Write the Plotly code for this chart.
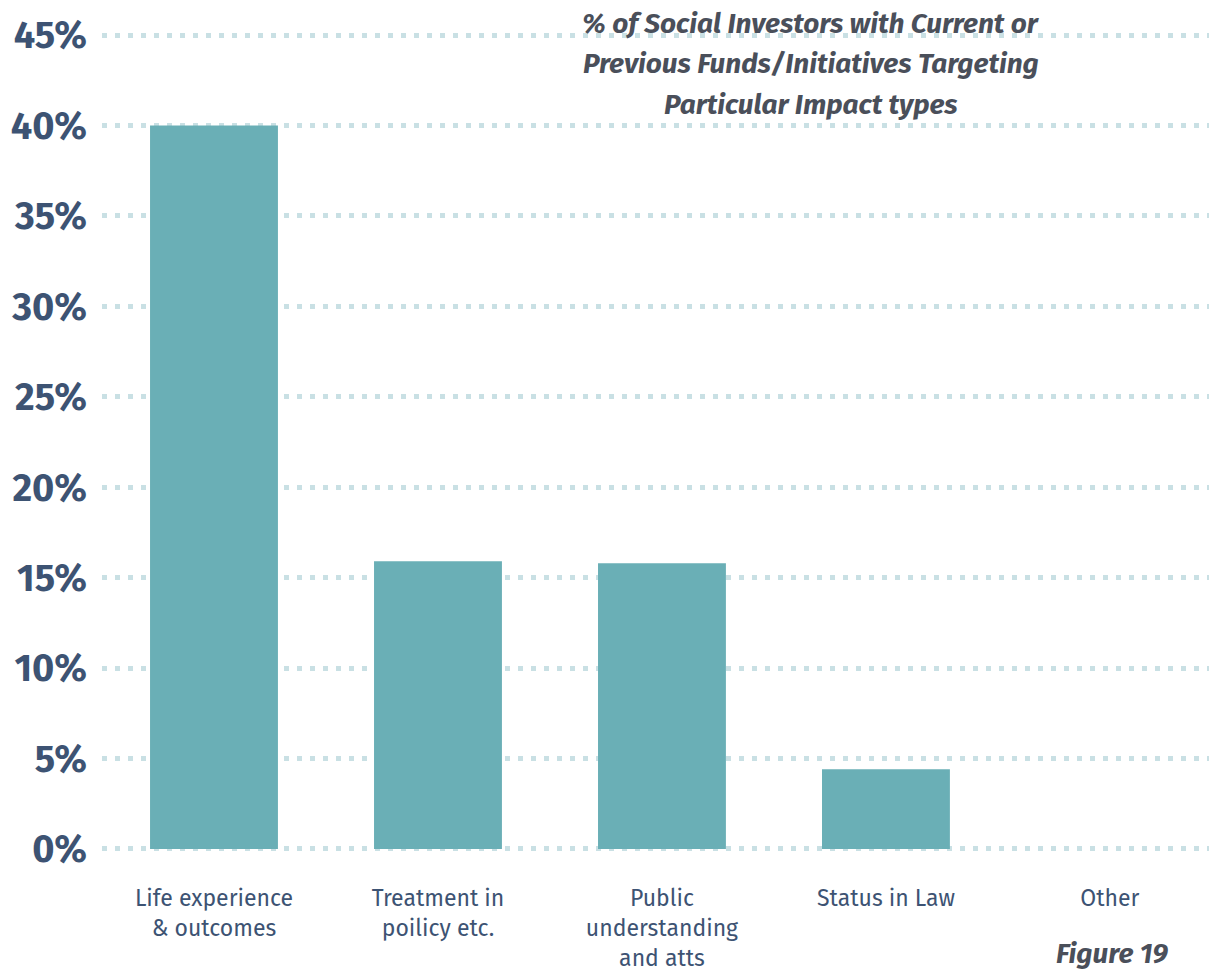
import plotly.graph_objects as go

# data
categories = ['Life experience<br>& outcomes', 'Treatment in<br>poilicy etc.',
              'Public<br>understanding<br>and atts', 'Status in Law', 'Other']
values = [40.0, 15.9, 15.8, 4.4, 0.0]
tick_vals = [0, 5, 10, 15, 20, 25, 30, 35, 40, 45]
tick_text = ['0%', '5%', '10%', '15%', '20%', '25%', '30%', '35%', '40%', '45%']
title_lines = ['% of Social Investors with Current or',
               'Previous Funds/Initiatives Targeting',
               'Particular Impact types']
figure_label = 'Figure 19'

FONT = 'Fira Sans, Noto Sans, Open Sans, sans-serif'
LABEL = '#3d5373'
TITLE = '#4a4f5a'

# the page adds an 8px body margin, so the figure is 8px smaller each way
W, H = 1209, 964
L, T, B = 94, 18, 113.5
plot_h = H - T - B

fig = go.Figure(go.Bar(
    x=categories, y=values,
    marker=dict(color='#6aafb6', line=dict(width=0)),
    hoverinfo='skip'))

fig.update_layout(
    width=W, height=H,
    margin=dict(l=L, r=0, t=T, b=B),
    plot_bgcolor='white', paper_bgcolor='white',
    bargap=0.429, showlegend=False,
    font=dict(family=FONT, color=LABEL),
)

fig.update_xaxes(
    range=[-0.5, 4.478], showgrid=False, zeroline=False, showline=False,
    ticks='', tickfont=dict(size=23, color=LABEL), ticklabelstandoff=24,
    automargin=False)

fig.update_yaxes(
    range=[-0.5, 45.5], tickvals=tick_vals, ticktext=tick_text,
    showgrid=True, gridcolor='#c9e0e4', gridwidth=5, griddash='5px,8px',
    zeroline=False, showline=False, ticks='',
    tickfont=dict(size=38, color=LABEL, family=FONT, weight='bold'),
    ticklabelstandoff=14, automargin=False)

# title block, one annotation per line to keep the wide line spacing
for i, line in enumerate(title_lines):
    fig.add_annotation(
        text='<b><i>' + line + '</i></b>', xref='paper', yref='paper',
        x=0.636, y=(H - B - 15.5 - 40.5 * i) / plot_h, xanchor='center', yanchor='middle',
        showarrow=False, font=dict(size=28, color=TITLE))

fig.add_annotation(
    text='<b><i>' + figure_label + '</i></b>', xref='paper', yref='paper',
    x=0.906, y=(H - B - 946) / plot_h, xanchor='center', yanchor='middle',
    showarrow=False, font=dict(size=28, color=TITLE))

fig.write_html('out.html')
